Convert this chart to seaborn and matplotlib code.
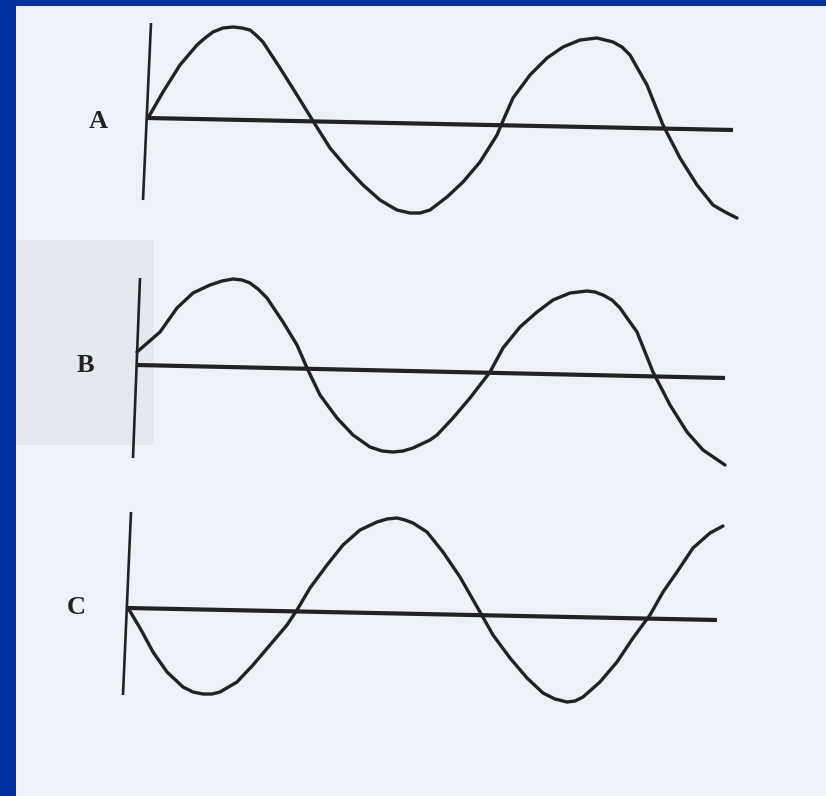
import numpy as np
import pandas as pd
import matplotlib
matplotlib.use("Agg")
import matplotlib.pyplot as plt
import seaborn as sns

# three hand-drawn waves in pixel coordinates (x right, y down)
labels = ["A", "B", "C"]

wave_a_x = [148, 163, 180, 197, 205, 213, 223, 233, 242, 250, 256, 263, 280, 297, 313, 330,
            347, 363, 380, 390, 397, 410, 420, 430, 447, 463, 480, 497, 502, 513, 530,
            547, 563, 580, 597, 613, 622, 630, 647, 663, 680, 697, 713, 725, 737]
wave_a_y = [118, 92, 65, 45, 38, 32, 28, 27, 28, 30, 35, 42, 68, 95, 121, 148,
            168, 185, 200, 206, 210, 213, 213, 210, 197, 182, 162, 135, 123, 98, 75,
            58, 47, 40, 38, 42, 47, 55, 85, 125, 158, 185, 205, 212, 218]

wave_b_x = [137, 160, 177, 193, 210, 222, 233, 242, 250, 258, 267, 283, 297, 307, 320, 337,
            353, 370, 382, 393, 403, 413, 430, 437, 453, 470, 490, 503, 520, 537, 553,
            570, 587, 595, 603, 612, 620, 637, 653, 670, 687, 703, 725]
wave_b_y = [352, 332, 308, 293, 285, 281, 279, 280, 283, 289, 298, 322, 345, 368, 395, 418,
            435, 447, 451, 452, 451, 448, 440, 435, 418, 398, 372, 348, 327, 312, 300,
            293, 291, 292, 295, 300, 308, 332, 372, 405, 432, 450, 465]

wave_c_x = [128, 140, 153, 167, 183, 193, 203, 212, 220, 237, 253, 270, 287, 297, 310, 327,
            343, 360, 377, 387, 397, 405, 413, 427, 443, 460, 480, 493, 510, 527, 543,
            555, 567, 575, 583, 600, 617, 633, 650, 663, 677, 693, 710, 723]
wave_c_y = [608, 628, 652, 672, 687, 692, 694, 694, 692, 682, 665, 645, 625, 610, 588, 565,
            545, 530, 522, 519, 518, 520, 523, 532, 552, 577, 612, 635, 658, 678, 693,
            699, 702, 701, 697, 682, 662, 638, 615, 592, 572, 548, 533, 526]

# axis lines of each panel: vertical (top, bottom) and baseline (start, end)
vert_x = [(151, 143), (140, 133), (131, 123)]
vert_y = [(23, 200), (278, 458), (512, 695)]
base_x = [(148, 733), (137, 725), (128, 717)]
base_y = [(118, 130), (365, 378), (608, 620)]
label_x = [98, 85, 76]
label_y = [122, 365, 608]

waves = [(wave_a_x, wave_a_y), (wave_b_x, wave_b_y), (wave_c_x, wave_c_y)]

blue = "#0033a0"
paper = "#eff1f8"
ink = "#222222"

sns.set_style("white")
fig = plt.figure(figsize=(8.26, 7.96), dpi=100, facecolor=blue)
ax = fig.add_axes([16 / 826, 0, 810 / 826, 790 / 796])
ax.set_facecolor(paper)
ax.set_xlim(16, 826)
ax.set_ylim(796, 6)
ax.axis("off")
ax.add_patch(plt.Rectangle((16, 6), 810, 790, color=paper, zorder=0))

# faint grey scan shadow left of panel B
ax.add_patch(plt.Rectangle((16, 240), 138, 205, color="#e6e8ef", lw=0, zorder=0.5))

for i, (wx, wy) in enumerate(waves):
    ax.plot(vert_x[i], vert_y[i], color=ink, lw=1.9, solid_capstyle="butt")
    ax.plot(base_x[i], base_y[i], color=ink, lw=3.0, solid_capstyle="butt")
    df = pd.DataFrame({"x": wx, "y": wy})
    sns.lineplot(data=df, x="x", y="y", sort=False, estimator=None, ax=ax,
                 color=ink, lw=2.4, solid_joinstyle="round", solid_capstyle="round")
    ax.text(label_x[i], label_y[i], labels[i], ha="center", va="center",
            fontsize=19, color=ink, family="Liberation Serif", fontweight="bold")

ax.set_xlabel("")
ax.set_ylabel("")
fig.savefig("out.png", dpi=100, facecolor=blue)
